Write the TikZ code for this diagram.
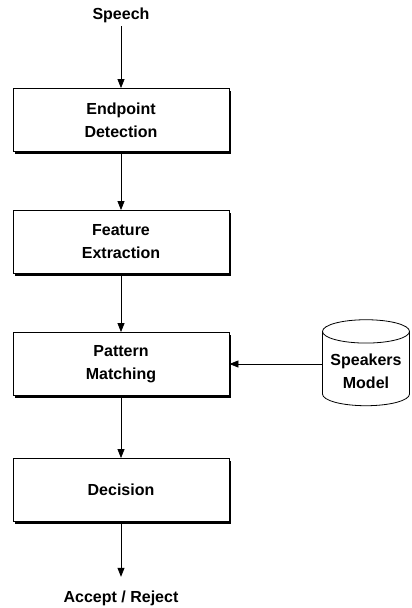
\documentclass[tikz,border=0pt]{standalone}
\usepackage{fontspec}
\setmainfont{Liberation Sans}
\usetikzlibrary{shapes.geometric,shadows,arrows.meta}

\tikzset{
  stage/.style={shape=rectangle, draw, fill=white, minimum width=216pt, minimum height=63pt, align=center,
    drop shadow={shadow xshift=2pt, shadow yshift=-2pt, fill=black, opacity=1}},
}

\begin{document}
\begin{tikzpicture}[x=1pt, y=1pt, line width=0.8pt, font=\fontsize{16}{23}\selectfont\bfseries,
  >={Triangle[length=9pt, width=7pt]}]
\useasboundingbox (0,0) rectangle (412,-608);
\node [shape=rectangle] (N0) at (121,-15) {Speech};
\node [stage, below of=N0, node distance=105pt] (N1) {Endpoint\\Detection};
\node [stage, below of=N1, node distance=122pt] (N2) {Feature\\Extraction};
\node [stage, below of=N2, node distance=122pt] (N3) {Pattern\\Matching};
\node [stage, below of=N3, node distance=126pt] (N4) {Decision};
\node [shape=rectangle, below of=N4, node distance=108pt] (N5) {Accept / Reject};
\node [shape=cylinder, shape border rotate=90, draw, aspect=0.3, minimum width=87pt, minimum height=86pt,
  align=center, right of=N3, node distance=245pt, yshift=-7pt] (N6) {Speakers\\Model};

\draw[->] (N0) -- (N1);
\draw[->] (N1) -- (N2);
\draw[->] (N2) -- (N3);
\draw[->] (N3) -- (N4);
\draw[->, shorten >=10pt] (N4) -- (N5);
\draw[->] (N6.west |- N3) -- (N3);
\end{tikzpicture}
\end{document}
